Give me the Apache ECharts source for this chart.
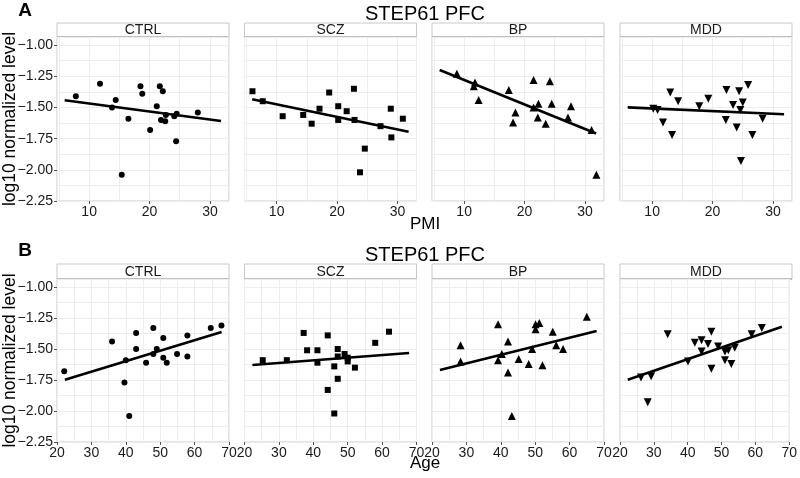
<!DOCTYPE html>
<html><head><meta charset="utf-8">
<script src="https://cdn.jsdelivr.net/npm/echarts@6/dist/echarts.min.js"></script>
<style>html,body{margin:0;padding:0;background:#fff}#c{width:800px;height:478px}</style>
</head><body><div id="c"></div>
<script>
// ---------- data ----------
const groups = ['CTRL', 'SCZ', 'BP', 'MDD'];
const chartTitle = 'STEP61 PFC';
const yTicks = [-2.25, -2.0, -1.75, -1.5, -1.25, -1.0];
const pmiTicks = [10, 20, 30];
const ageTicks = [20, 30, 40, 50, 60, 70];

const pmiCTRL = [7.8, 11.8, 13.8, 14.4, 16.5, 15.4, 18.5, 18.8, 20.1, 21.2, 21.7, 22.2, 21.9, 22.6, 22.7, 24.1, 24.5, 24.4, 28.0];
const levelPmiCTRL = [-1.41, -1.31, -1.50, -1.44, -1.59, -2.04, -1.33, -1.39, -1.68, -1.49, -1.33, -1.37, -1.60, -1.61, -1.56, -1.57, -1.55, -1.77, -1.54];
const pmiSCZ = [6.0, 7.7, 11.0, 14.4, 15.8, 17.1, 18.7, 20.2, 20.2, 21.6, 22.8, 22.9, 24.6, 23.8, 27.2, 28.9, 29.0, 30.9];
const levelPmiSCZ = [-1.37, -1.45, -1.57, -1.56, -1.63, -1.51, -1.38, -1.49, -1.60, -1.53, -1.35, -1.60, -1.83, -2.02, -1.65, -1.51, -1.74, -1.59];
const pmiBP = [8.8, 11.8, 11.6, 12.4, 17.4, 18.5, 18.1, 21.5, 21.5, 22.3, 22.2, 24.2, 24.5, 23.5, 27.2, 27.7, 31.1, 31.9];
const levelPmiBP = [-1.23, -1.30, -1.33, -1.44, -1.36, -1.54, -1.62, -1.28, -1.50, -1.47, -1.58, -1.29, -1.47, -1.63, -1.58, -1.49, -1.68, -2.04];
const pmiMDD = [10.2, 10.9, 11.8, 13.0, 13.3, 14.3, 17.8, 19.3, 22.2, 22.3, 23.4, 24.0, 24.4, 24.6, 25.0, 24.7, 25.9, 26.6, 28.3];
const levelPmiMDD = [-1.51, -1.52, -1.62, -1.38, -1.72, -1.45, -1.49, -1.43, -1.60, -1.36, -1.48, -1.66, -1.37, -1.52, -1.46, -1.93, -1.32, -1.72, -1.59];

const ageCTRL = [22.1, 36.0, 39.6, 40.0, 41.0, 43.0, 43.0, 45.9, 48.0, 48.0, 49.0, 50.9, 50.9, 51.9, 54.9, 57.9, 57.9, 64.7, 67.8];
const levelAgeCTRL = [-1.68, -1.44, -1.77, -1.59, -2.04, -1.37, -1.50, -1.61, -1.33, -1.54, -1.50, -1.41, -1.57, -1.61, -1.54, -1.39, -1.56, -1.33, -1.31];
const ageSCZ = [25.3, 32.3, 37.2, 38.2, 41.2, 41.2, 44.2, 44.2, 46.1, 46.1, 47.1, 47.1, 47.1, 49.1, 50.0, 50.0, 52.1, 58.0, 62.0];
const levelAgeSCZ = [-1.59, -1.59, -1.37, -1.51, -1.51, -1.61, -1.39, -1.83, -1.64, -2.02, -1.50, -1.56, -1.74, -1.54, -1.57, -1.60, -1.65, -1.45, -1.36];
const ageBP = [28.3, 28.3, 39.2, 39.2, 40.3, 42.1, 42.1, 43.2, 45.2, 48.1, 49.1, 50.1, 50.1, 51.2, 52.1, 55.1, 56.1, 58.1, 65.0];
const levelAgeBP = [-1.47, -1.60, -1.30, -1.59, -1.54, -1.44, -1.69, -2.04, -1.58, -1.62, -1.50, -1.30, -1.34, -1.29, -1.63, -1.36, -1.47, -1.50, -1.24];
const ageMDD = [26.2, 29.2, 28.2, 34.1, 40.1, 42.1, 44.1, 44.1, 46.0, 47.0, 47.0, 49.0, 51.0, 52.0, 51.0, 52.9, 53.9, 58.9, 61.9];
const levelAgeMDD = [-1.73, -1.72, -1.93, -1.38, -1.60, -1.45, -1.43, -1.52, -1.46, -1.36, -1.66, -1.48, -1.52, -1.51, -1.59, -1.62, -1.49, -1.38, -1.33];

// fitted regression lines (ends)
const fitPmiX = [5.95, 31.85];
const fitPmiCTRL = [-1.442, -1.609];
const fitPmiSCZ = [-1.434, -1.695];
const fitPmiBP = [-1.199, -1.709];
const fitPmiMDD = [-1.499, -1.555];
const fitAgeX = [22.3, 67.85];
const fitAgeCTRL = [-1.747, -1.363];
const fitAgeSCZ = [-1.629, -1.532];
const fitAgeBP = [-1.669, -1.355];
const fitAgeMDD = [-1.747, -1.320];

// ---------- layout / style ----------
const FONT = 'Liberation Sans, Arial, Helvetica, sans-serif';
const panelLefts = [57, 244.5, 432, 620];
const panelW = 172;
const symbols = ['circle', 'rect', 'triangle', 'triangle'];
const symRot = [0, 0, 0, 180];
const symSize = [6, 6, 8, 8];
const rows = [
  { xs: [pmiCTRL, pmiSCZ, pmiBP, pmiMDD], ys: [levelPmiCTRL, levelPmiSCZ, levelPmiBP, levelPmiMDD],
    fitX: fitPmiX, fitY: [fitPmiCTRL, fitPmiSCZ, fitPmiBP, fitPmiMDD],
    top: 37, h: 164, stripTop: 23, stripH: 14, xmin: 4.68, xmax: 33.16, ticks: pmiTicks,
    xTitle: 'PMI', letter: 'A', titleY: 14, letterY: 11, xTitleY: 224 },
  { xs: [ageCTRL, ageSCZ, ageBP, ageMDD], ys: [levelAgeCTRL, levelAgeSCZ, levelAgeBP, levelAgeMDD],
    fitX: fitAgeX, fitY: [fitAgeCTRL, fitAgeSCZ, fitAgeBP, fitAgeMDD],
    top: 279, h: 163, stripTop: 264, stripH: 15, xmin: 20, xmax: 70, ticks: ageTicks,
    xTitle: 'Age', letter: 'B', titleY: 255, letterY: 251, xTitleY: 463 }
];

const grid = [], xAxis = [], yAxis = [], series = [], graphic = [];
const gridLine = { show: true, lineStyle: { color: '#ededed', width: 1 } };
rows.forEach((r, ri) => {
  groups.forEach((g, gi) => {
    const idx = ri * 4 + gi;
    grid.push({ left: panelLefts[gi], top: r.top, width: panelW, height: r.h,
      show: true, borderColor: '#c8c8c8', borderWidth: 1, backgroundColor: '#fff' });
    xAxis.push({ type: 'value', gridIndex: idx, min: r.xmin, max: r.xmax,
      axisLine: { show: false }, splitLine: { show: false },
      axisTick: { show: true, length: 3, lineStyle: { color: '#555' }, customValues: r.ticks },
      axisLabel: { show: true, customValues: r.ticks, color: '#1a1a1a', fontSize: 14, fontFamily: FONT, margin: 4 } });
    yAxis.push({ type: 'value', gridIndex: idx, min: -2.25, max: -0.935, interval: 0.125,
      axisLine: { show: false }, splitLine: { show: false },
      axisTick: { show: gi === 0, length: 3, lineStyle: { color: '#555' }, customValues: yTicks },
      axisLabel: { show: gi === 0, customValues: yTicks, color: '#1a1a1a', fontSize: 14, fontFamily: FONT, margin: 4,
        formatter: v => v.toFixed(2).replace('-', '\u2212') } });
    series.push({ type: 'scatter', xAxisIndex: idx, yAxisIndex: idx,
      data: r.xs[gi].map((x, k) => [x, r.ys[gi][k]]),
      symbol: symbols[gi], symbolRotate: symRot[gi], symbolSize: symSize[gi],
      itemStyle: { color: '#000', opacity: 1 }, z: 3, silent: true });
    series.push({ type: 'line', xAxisIndex: idx, yAxisIndex: idx,
      data: r.fitX.map((x, k) => [x, r.fitY[gi][k]]),
      showSymbol: false, symbol: 'none', lineStyle: { color: '#000', width: 2.6 }, z: 4, silent: true });
    // strip
    graphic.push({ type: 'rect', shape: { x: panelLefts[gi], y: r.stripTop, width: panelW, height: r.stripH },
      style: { fill: '#fff', stroke: '#c8c8c8', lineWidth: 1 } });
    graphic.push({ type: 'line', shape: { x1: panelLefts[gi], y1: r.stripTop + r.stripH, x2: panelLefts[gi] + panelW, y2: r.stripTop + r.stripH },
      style: { stroke: '#9a9a9a', lineWidth: 1.2 } });
    graphic.push({ type: 'text', x: panelLefts[gi] + panelW / 2, y: r.stripTop + r.stripH / 2 + 0.5,
      style: { text: g, fill: '#1a1a1a', font: '14px ' + FONT, textAlign: 'center', textVerticalAlign: 'middle' } });
  });
  graphic.push({ type: 'text', x: 425, y: r.titleY,
    style: { text: chartTitle, fill: '#000', font: '20px ' + FONT, textAlign: 'center', textVerticalAlign: 'middle' } });
  graphic.push({ type: 'text', x: 25, y: r.letterY,
    style: { text: r.letter, fill: '#000', font: 'bold 19px ' + FONT, textAlign: 'center', textVerticalAlign: 'middle' } });
  graphic.push({ type: 'text', x: 425, y: r.xTitleY,
    style: { text: r.xTitle, fill: '#000', font: '17px ' + FONT, textAlign: 'center', textVerticalAlign: 'middle' } });
  graphic.push({ type: 'text', x: 10, y: r.top + r.h / 2, rotation: Math.PI / 2,
    style: { text: 'log10 normalized level', fill: '#000', font: '17.5px ' + FONT, textAlign: 'center', textVerticalAlign: 'middle' } });
});
// secondary (label-less) axes that only draw the background grid lines
rows.forEach((r, ri) => {
  groups.forEach((g, gi) => {
    const idx = ri * 4 + gi;
    const gx = { type: 'value', gridIndex: idx, position: 'top', min: r.xmin, max: r.xmax,
      axisLine: { show: false }, axisTick: { show: false }, axisLabel: { show: false }, splitLine: gridLine };
    if (ri === 0) gx.splitNumber = 6; else gx.interval = 5;
    xAxis.push(gx);
    yAxis.push({ type: 'value', gridIndex: idx, position: 'right', min: -2.25, max: -0.935, interval: 0.125,
      axisLine: { show: false }, axisTick: { show: false }, axisLabel: { show: false }, splitLine: gridLine });
  });
});

const chart = echarts.init(document.getElementById('c'), null, { renderer: 'canvas' });
chart.setOption({ animation: false, backgroundColor: '#fff', grid, xAxis, yAxis, series, graphic });
</script></body></html>
